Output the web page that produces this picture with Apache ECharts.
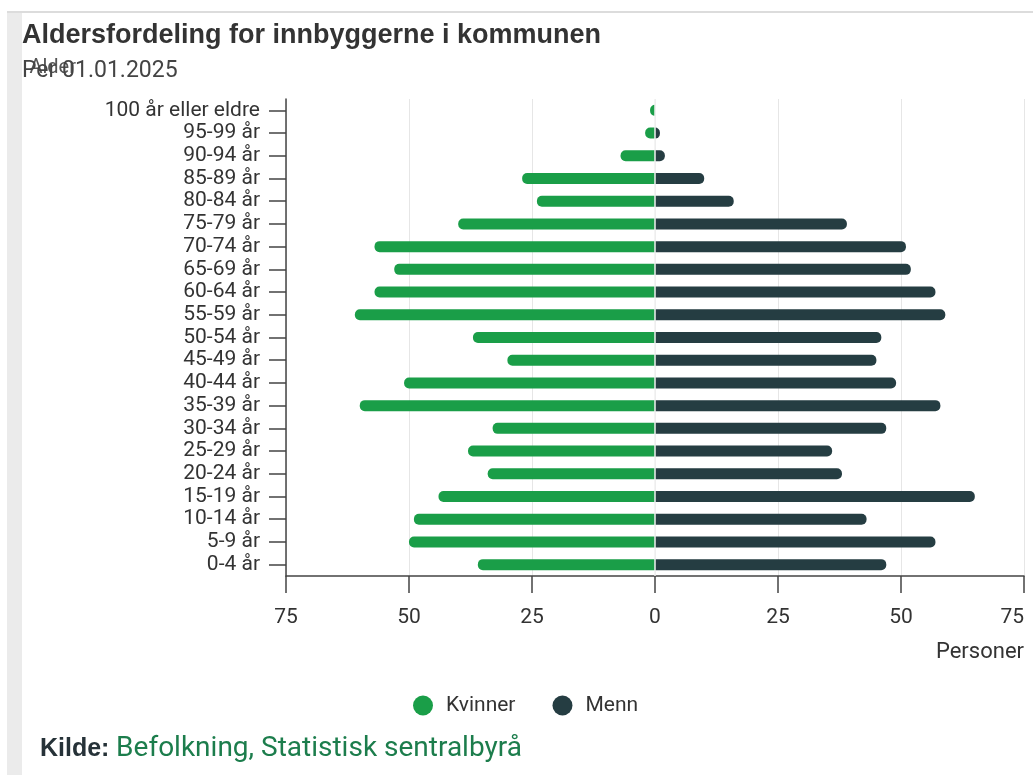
<!DOCTYPE html>
<html>
<head>
<meta charset="utf-8">
<title>Aldersfordeling</title>
<script src="https://cdn.jsdelivr.net/npm/echarts@6/dist/echarts.min.js"></script>
<style>
  html, body { margin: 0; padding: 0; background: #fff; }
  .frame-left { position: absolute; left: 7px; top: 12px; width: 15px; height: 763px; background: #ebebeb; }
  .frame-top { position: absolute; left: 7px; top: 11px; width: 1026px; height: 2px; background: #dcdcdc; }
  #chart { position: absolute; left: 0; top: 0; width: 1033px; height: 775px; }
</style>
</head>
<body>
<div class="frame-left"></div>
<div class="frame-top"></div>
<div id="chart"></div>
<script>
// aldersgrupper, nederst til øverst
const ageGroups = [
  '0-4 år', '5-9 år', '10-14 år', '15-19 år', '20-24 år', '25-29 år', '30-34 år',
  '35-39 år', '40-44 år', '45-49 år', '50-54 år', '55-59 år', '60-64 år', '65-69 år',
  '70-74 år', '75-79 år', '80-84 år', '85-89 år', '90-94 år', '95-99 år', '100 år eller eldre'
]
const kvinner = [36, 50, 49, 44, 34, 38, 33, 60, 51, 30, 37, 61, 57, 53, 57, 40, 24, 27, 7, 2, 1]
const menn = [47, 57, 43, 65, 38, 36, 47, 58, 49, 45, 46, 59, 57, 52, 51, 39, 16, 10, 2, 1, 0]
const xTicks = [-75, -50, -25, 0, 25, 50, 75]

const chart = echarts.init(document.getElementById('chart'))
const font = 'Roboto, "Liberation Sans", sans-serif'
const boldFont = '"Liberation Sans", Arial, sans-serif'

const option = {
  textStyle: { fontFamily: font },
  animation: false,
  title: {
    text: 'Aldersfordeling for innbyggerne i kommunen',
    subtext: 'Per 01.01.2025',
    left: 22,
    top: 22,
    padding: 0,
    itemGap: 11,
    textStyle: { fontSize: 27, fontWeight: 'bold', color: '#333', fontFamily: boldFont },
    subtextStyle: { fontSize: 23, color: '#444', fontFamily: font }
  },
  legend: {
    data: ['Kvinner', 'Menn'],
    left: 413,
    top: 695,
    icon: 'circle',
    itemWidth: 36,
    itemHeight: 20,
    itemGap: 37,
    padding: 0,
    textStyle: { fontSize: 21, color: '#333', fontFamily: font }
  },
  grid: { left: 286, right: 9, top: 99, bottom: 199, outerBoundsMode: 'none' },
  xAxis: {
    type: 'value',
    min: xTicks[0],
    max: xTicks[xTicks.length - 1],
    interval: 25,
    name: 'Personer',
    nameLocation: 'end',
    nameGap: 0,
    nameTextStyle: { fontSize: 22, color: '#333', align: 'right', verticalAlign: 'top', padding: [65, 0, 0, 0] },
    axisLine: { show: true, lineStyle: { color: '#444', width: 1.5 } },
    axisTick: { show: true, length: 17, lineStyle: { color: '#444', width: 1.5 } },
    axisLabel: { fontSize: 21, color: '#333', margin: 31, alignMaxLabel: 'right', formatter: v => Math.abs(v) },
    splitLine: { show: true, lineStyle: { color: '#e6e6e6' } }
  },
  yAxis: {
    type: 'category',
    data: ageGroups,
    name: 'Alder',
    nameLocation: 'end',
    nameGap: 21,
    nameTextStyle: { fontSize: 20, color: '#555', align: 'right', verticalAlign: 'bottom', padding: [0, 210, 0, 0] },
    axisLine: { show: true, onZero: false, lineStyle: { color: '#444', width: 1.5 } },
    axisTick: { show: true, interval: 0, alignWithLabel: true, length: 17, lineStyle: { color: '#444', width: 1.5 } },
    axisLabel: { fontSize: 21, interval: 0, color: '#333', margin: 26, padding: [4, 0, 0, 0] },
    splitLine: { show: false }
  },
  series: [
    {
      name: 'Kvinner',
      type: 'bar',
      barWidth: 11,
      barGap: '-100%',
      itemStyle: { color: '#1a9e48', borderRadius: [5, 0, 0, 5] },
      data: kvinner.map(v => -v),
      markLine: {
        silent: true,
        symbol: 'none',
        label: { show: false },
        lineStyle: { color: '#f0f0f0', type: 'solid', width: 1.5 },
        data: [{ xAxis: 0 }]
      }
    },
    {
      name: 'Menn',
      type: 'bar',
      barWidth: 11,
      itemStyle: { color: '#253d42', borderRadius: [0, 5, 5, 0] },
      data: menn
    }
  ],
  graphic: [
    {
      type: 'text',
      left: 40,
      top: 735,
      style: {
        text: '{b|Kilde:}  {g|Befolkning, Statistisk sentralbyrå}',
        rich: {
          b: { fontSize: 25, fontWeight: 'bold', fill: '#263238', fontFamily: boldFont },
          g: { fontSize: 28, fill: '#1c7d4c', fontFamily: font }
        }
      }
    }
  ]
}

chart.setOption(option)
window.addEventListener('resize', () => chart.resize())
</script>
</body>
</html>
